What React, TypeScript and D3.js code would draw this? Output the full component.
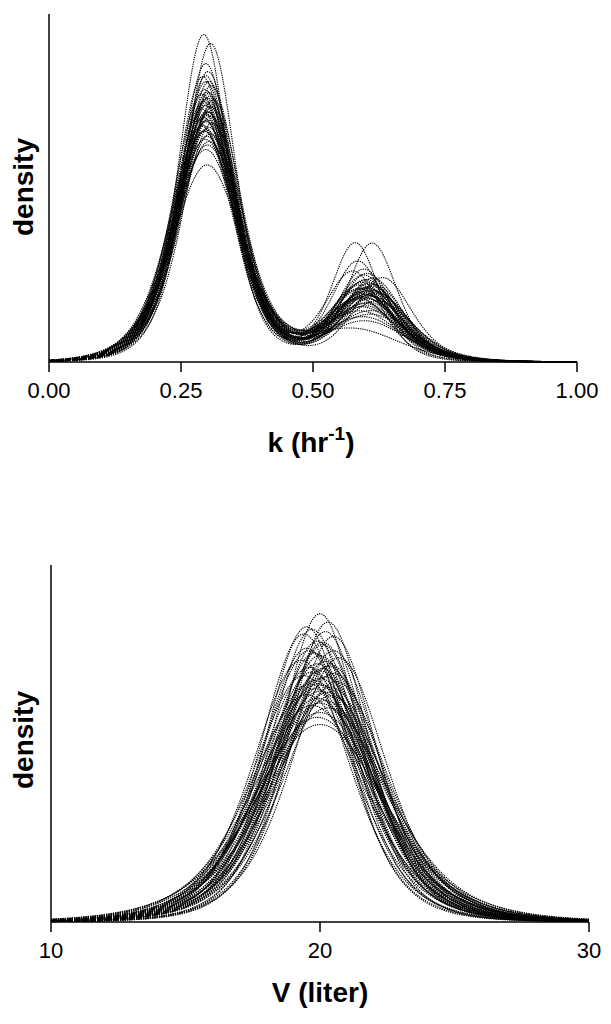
import React from 'react';
import * as d3 from 'd3';

// k panel: each curve has two modes (peak height, centre, spread of each)
const kPeak1 = [7.33, 7.13, 6.68, 6.5, 6.39, 6.28, 6.28, 6.18, 6.1, 6.05, 6.0, 5.95, 5.9, 5.86, 5.83, 5.78, 5.74, 5.7, 5.66, 5.62, 5.58, 5.55, 5.5, 5.46,
  5.42, 5.38, 5.34, 5.3, 5.25, 5.2, 5.16, 5.1, 5.04, 4.98, 4.93, 4.85, 4.75, 4.39, 5.85, 5.6, 6.02, 5.4, 5.72, 5.16, 5.52, 6.4, 5.28, 5.9];
const kMean1 = [0.293, 0.306, 0.297, 0.301, 0.291, 0.303, 0.297, 0.307, 0.295, 0.3, 0.289, 0.304, 0.298, 0.311, 0.292, 0.301, 0.296, 0.308, 0.29, 0.299, 0.303, 0.296, 0.306, 0.293,
  0.3, 0.297, 0.309, 0.291, 0.302, 0.298, 0.294, 0.305, 0.299, 0.296, 0.303, 0.3, 0.297, 0.299, 0.296, 0.301, 0.303, 0.297, 0.305, 0.294, 0.301, 0.297, 0.289, 0.3];
const kSd1 = [0.05, 0.051, 0.053, 0.054, 0.054, 0.055, 0.055, 0.056, 0.056, 0.057, 0.057, 0.056, 0.058, 0.057, 0.058, 0.059, 0.059, 0.059, 0.06, 0.06, 0.06, 0.061, 0.061, 0.061,
  0.062, 0.062, 0.062, 0.063, 0.063, 0.064, 0.064, 0.065, 0.065, 0.066, 0.066, 0.067, 0.068, 0.07, 0.056, 0.057, 0.055, 0.059, 0.057, 0.062, 0.06, 0.054, 0.063, 0.058];
const kPeak2 = [1.25, 1.4, 1.55, 1.45, 1.62, 1.5, 1.72, 1.42, 1.66, 1.8, 1.52, 1.76, 1.6, 1.48, 1.86, 1.7, 1.63, 1.92, 1.55, 1.75, 1.44, 1.68, 1.82, 1.38,
  1.58, 1.96, 1.5, 1.73, 1.62, 1.35, 1.28, 1.46, 1.2, 1.56, 1.12, 1.4, 1.3, 0.7, 2.65, 2.65, 2.24, 2.06, 1.88, 0.9, 1.05, 1.0, 2.0, 1.12];
const kMean2 = [0.6, 0.606, 0.596, 0.612, 0.59, 0.601, 0.617, 0.586, 0.604, 0.598, 0.621, 0.593, 0.609, 0.6, 0.613, 0.589, 0.604, 0.597, 0.619, 0.607, 0.595, 0.611, 0.601, 0.587,
  0.615, 0.603, 0.596, 0.609, 0.591, 0.623, 0.6, 0.608, 0.594, 0.602, 0.612, 0.598, 0.606, 0.58, 0.58, 0.612, 0.585, 0.597, 0.632, 0.6, 0.61, 0.595, 0.576, 0.59];
const kSd2 = [0.066, 0.064, 0.063, 0.066, 0.062, 0.064, 0.061, 0.066, 0.063, 0.06, 0.066, 0.061, 0.064, 0.068, 0.06, 0.062, 0.065, 0.059, 0.067, 0.062, 0.069, 0.064, 0.061, 0.07,
  0.066, 0.058, 0.068, 0.063, 0.066, 0.071, 0.073, 0.069, 0.075, 0.067, 0.076, 0.07, 0.072, 0.09, 0.048, 0.05, 0.053, 0.055, 0.058, 0.08, 0.078, 0.079, 0.056, 0.077];
const kTicks = [0, 0.25, 0.5, 0.75, 1];

// V panel: one mode per curve
const vPeak = [0.259, 0.252, 0.248, 0.246, 0.244, 0.242, 0.24, 0.236, 0.233, 0.23, 0.228, 0.226, 0.224, 0.222, 0.22, 0.219, 0.217, 0.216, 0.214, 0.213, 0.211, 0.21, 0.209, 0.207,
  0.206, 0.205, 0.203, 0.202, 0.2, 0.199, 0.197, 0.196, 0.194, 0.193, 0.191, 0.19, 0.188, 0.186, 0.184, 0.182, 0.18, 0.176, 0.172, 0.166, 0.235, 0.228, 0.215, 0.2];
const vMean = [20.0, 20.3, 19.5, 19.7, 20.2, 19.4, 20.5, 19.9, 20.1, 19.5, 20.5, 19.8, 20.0, 20.7, 19.3, 20.2, 19.9, 20.4, 19.6, 20.1, 20.0, 19.7, 20.5, 19.4,
  20.2, 20.0, 19.8, 20.6, 19.6, 20.1, 20.4, 19.8, 20.0, 20.3, 19.5, 20.4, 19.9, 20.2, 20.0, 19.7, 20.3, 20.0, 19.9, 20.0, 20.1, 19.6, 20.3, 19.9];
const vSd = [1.55, 1.6, 1.64, 1.66, 1.68, 1.72, 1.7, 1.74, 1.77, 1.8, 1.78, 1.82, 1.85, 1.84, 1.88, 1.86, 1.9, 1.89, 1.93, 1.92, 1.96, 1.95, 1.99, 2.0,
  1.97, 2.03, 2.05, 2.02, 2.08, 2.1, 2.09, 2.13, 2.16, 2.14, 2.19, 2.22, 2.25, 2.28, 2.31, 2.34, 2.37, 2.42, 2.47, 2.55, 1.8, 1.9, 1.98, 2.15];
const vTicks = [10, 20, 30];

// bell shape with somewhat heavy tails (Student-t profile, 5 d.f.), 1 at its centre
const NU = 5;
const bell = (x: number, m: number, s: number) => {
  const u = (x - m) / s;
  return Math.pow(1 + (u * u) / NU, -(NU + 1) / 2);
};

const FONT = 'Arial, "Liberation Sans", Helvetica, sans-serif';

const App = () => {
  const W = 611;
  const H = 1024;

  // top panel
  const kx = d3.scaleLinear().domain([0, 1]).range([49, 577]);
  const ky = d3.scaleLinear().domain([0, 7.8]).range([362, 14]);
  const kGrid = d3.range(0, 1.0001, 0.002);
  const kLine = d3.line<[number, number]>().x(d => kx(d[0])).y(d => ky(d[1]));
  const kPaths = kPeak1.map((p1, i) =>
    kLine(kGrid.map(x => [x, p1 * bell(x, kMean1[i], kSd1[i]) + kPeak2[i] * bell(x, kMean2[i], kSd2[i])] as [number, number]))
  );

  // bottom panel
  const vx = d3.scaleLinear().domain([10, 30]).range([51, 589]);
  const vy = d3.scaleLinear().domain([0, 0.3]).range([922, 565]);
  const vGrid = d3.range(10, 30.0001, 0.04);
  const vLine = d3.line<[number, number]>().x(d => vx(d[0])).y(d => vy(d[1]));
  const vPaths = vPeak.map((p, i) =>
    vLine(vGrid.map(x => [x, p * bell(x, vMean[i], vSd[i])] as [number, number]))
  );

  const curveStyle = { fill: 'none', stroke: '#000', strokeWidth: 1.1, strokeDasharray: '1.3 1' };

  return (
    <svg width={W} height={H} style={{ position: 'absolute', left: 0, top: 0, background: '#fff' }} fontFamily={FONT}>
      <rect width={W} height={H} fill="#fff" />
      {/* top panel */}
      <g>
        {kPaths.map((d, i) => <path key={i} d={d || ''} {...curveStyle} />)}
        <line x1={kx(0)} x2={kx(0)} y1={14} y2={ky(0)} stroke="#000" strokeWidth={1.5} />
        <line x1={kx(0)} x2={kx(1)} y1={ky(0)} y2={ky(0)} stroke="#000" strokeWidth={1.5} />
        {kTicks.map(t => (
          <g key={t}>
            <line x1={kx(t)} x2={kx(t)} y1={ky(0)} y2={ky(0) + 10} stroke="#000" strokeWidth={1.5} />
            <text x={kx(t)} y={398} textAnchor="middle" fontSize={22}>{d3.format('.2f')(t)}</text>
          </g>
        ))}
        <text x={311} y={452} textAnchor="middle" fontSize={28} fontWeight="bold">
          k (hr<tspan fontSize={19} dy={-12}>-1</tspan><tspan dy={12}>)</tspan>
        </text>
        <text transform="translate(33,187) rotate(-90)" textAnchor="middle" fontSize={28} fontWeight="bold">density</text>
      </g>
      {/* bottom panel */}
      <g>
        {vPaths.map((d, i) => <path key={i} d={d || ''} {...curveStyle} />)}
        <line x1={vx(10)} x2={vx(10)} y1={565} y2={vy(0)} stroke="#000" strokeWidth={1.5} />
        <line x1={vx(10)} x2={vx(30)} y1={vy(0)} y2={vy(0)} stroke="#000" strokeWidth={1.5} />
        {vTicks.map(t => (
          <g key={t}>
            <line x1={vx(t)} x2={vx(t)} y1={vy(0)} y2={vy(0) + 10} stroke="#000" strokeWidth={1.5} />
            <text x={vx(t)} y={958} textAnchor="middle" fontSize={22}>{t}</text>
          </g>
        ))}
        <text x={320} y={1002} textAnchor="middle" fontSize={28} fontWeight="bold">V (liter)</text>
        <text transform="translate(33,740) rotate(-90)" textAnchor="middle" fontSize={28} fontWeight="bold">density</text>
      </g>
    </svg>
  );
};

export default App;
